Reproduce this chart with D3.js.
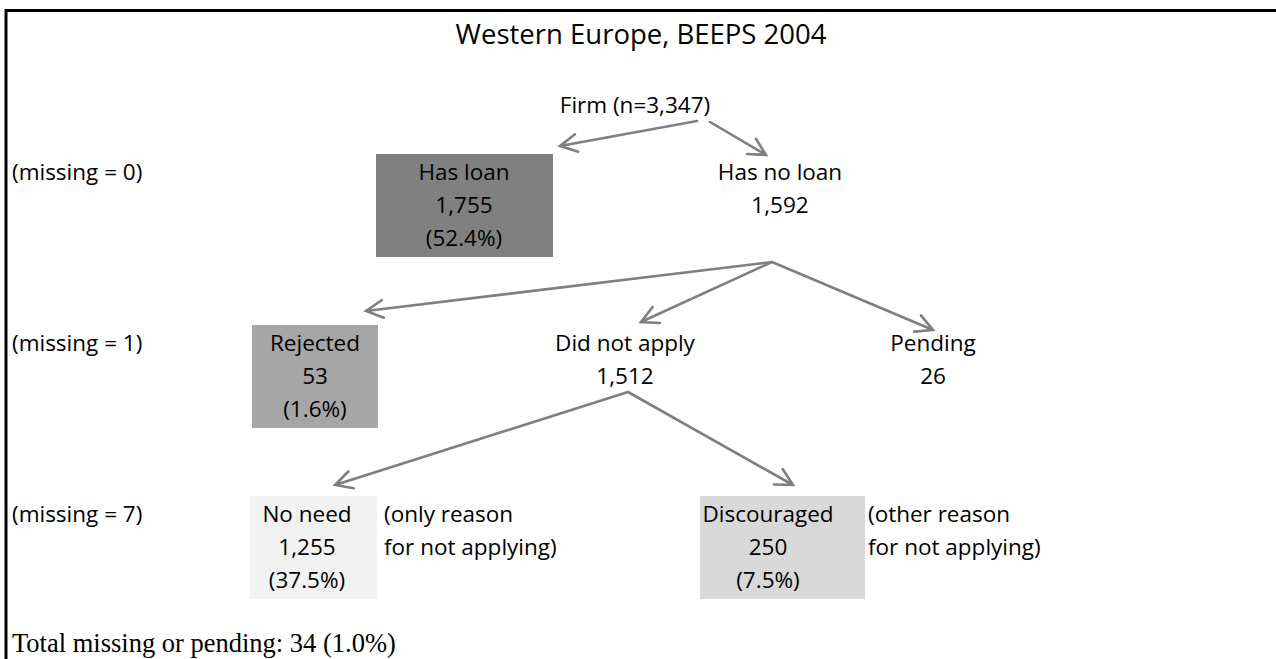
<!DOCTYPE html>
<html lang="en">
<head>
  <meta charset="UTF-8" />
  <title>Western Europe, BEEPS 2004</title>
  <script src="https://d3js.org/d3.v7.min.js"></script>
  <style>
    body {
      margin: 0;
      background: #fff;
      overflow: hidden;
    }
    .lbl {
      font-family: "Open Sans", sans-serif;
      font-size: 22.5px;
      fill: #000;
    }
    .title {
      font-family: "Open Sans", sans-serif;
      font-size: 27.5px;
      fill: #000;
    }
    .note {
      font-family: "Liberation Serif", "Times New Roman", serif;
      font-size: 26.5px;
      fill: #000;
    }
    .arrow {
      stroke: #7f7f7f;
      stroke-width: 2.6px;
      fill: none;
      stroke-linecap: round;
    }
  </style>
</head>
<body>
  <script>
    // Chart values
    const titleText = "Western Europe, BEEPS 2004";
    const levelLabels = ["(missing = 0)", "(missing = 1)", "(missing = 7)"];
    const nodeNames = ["Firm (n=3,347)", "Has loan", "Has no loan", "Rejected", "Did not apply", "Pending", "No need", "Discouraged"];
    const nodeCounts = [null, "1,755", "1,592", "53", "1,512", "26", "1,255", "250"];
    const nodePcts = [null, "(52.4%)", null, "(1.6%)", null, null, "(37.5%)", "(7.5%)"];
    const nodeParent = [null, 0, 0, 2, 2, 2, 4, 4];
    const nodeLevel = [-1, 0, 0, 1, 1, 1, 2, 2];
    const sideNotes = [
      { node: 6, lines: ["(only reason", "for not applying)"] },
      { node: 7, lines: ["(other reason", "for not applying)"] }
    ];
    const footnote = "Total missing or pending: 34 (1.0%)";

    // Layout (positions, sizes, colours)
    const width = 1276, height = 659;
    const lineGap = 33;
    // baseline of the first text line for each row (firm row, then levels)
    const rowY = d3.scaleOrdinal().domain([-1, 0, 1, 2]).range([113, 180, 351, 522]);
    const layout = {
      "Firm (n=3,347)": { cx: 635, out: [[62, 8], [75, 9]] },
      "Has loan":      { cx: 464, box: [376, 553], fill: "#808080", tip: [560, 146] },
      "Has no loan":   { cx: 780, tip: [766, 155], out: [[-8, 82]] },
      "Rejected":      { cx: 315, box: [252, 378], fill: "#a6a6a6", tip: [366, 311] },
      "Did not apply": { cx: 625, tip: [641, 322], out: [[3, 41]] },
      "Pending":       { cx: 933, tip: [933, 330] },
      "No need":       { cx: 307, box: [250, 377], fill: "#f2f2f2", tip: [335, 485] },
      "Discouraged":   { cx: 768, box: [700, 865], fill: "#d9d9d9", tip: [793, 485] }
    };
    const noteX = { 6: 384, 7: 868 };

    const svg = d3.select("body").append("svg")
      .attr("width", width)
      .attr("height", height);

    // Frame (left and top rules)
    svg.append("line").attr("x1", 6).attr("y1", 10.5).attr("x2", width).attr("y2", 10.5)
      .attr("stroke", "#000").attr("stroke-width", 3);
    svg.append("line").attr("x1", 6).attr("y1", 9).attr("x2", 6).attr("y2", height)
      .attr("stroke", "#000").attr("stroke-width", 3);

    svg.append("text").attr("class", "title")
      .attr("x", 641).attr("y", 44)
      .attr("text-anchor", "middle")
      .text(titleText);

    const nodes = nodeNames.map((name, i) => ({
      i, name,
      count: nodeCounts[i],
      pct: nodePcts[i],
      parent: nodeParent[i],
      level: nodeLevel[i],
      lines: [name, nodeCounts[i], nodePcts[i]].filter(s => s !== null),
      ...layout[name]
    }));

    // Boxes
    svg.selectAll("rect.box")
      .data(nodes.filter(d => d.box))
      .join("rect")
      .attr("class", "box")
      .attr("x", d => d.box[0])
      .attr("y", d => rowY(d.level) - 26)
      .attr("width", d => d.box[1] - d.box[0])
      .attr("height", lineGap * 2 + 37)
      .attr("fill", d => d.fill);

    // Node labels
    const g = svg.selectAll("g.node")
      .data(nodes)
      .join("g")
      .attr("class", "node");
    g.selectAll("text")
      .data(d => d.lines.map((s, k) => ({ s, k, d })))
      .join("text")
      .attr("class", "lbl")
      .attr("x", t => t.d.cx)
      .attr("y", t => rowY(t.d.level) + t.k * lineGap)
      .attr("text-anchor", "middle")
      .text(t => t.s);

    // Level labels
    svg.selectAll("text.level")
      .data(levelLabels)
      .join("text")
      .attr("class", "lbl level")
      .attr("x", 12)
      .attr("y", (d, i) => rowY(i))
      .text(d => d);

    // Side notes
    sideNotes.forEach(n => {
      n.lines.forEach((s, k) => {
        svg.append("text").attr("class", "lbl")
          .attr("x", noteX[n.node])
          .attr("y", rowY(nodes[n.node].level) + k * lineGap)
          .text(s);
      });
    });

    // Arrows from parent to child
    const links = nodes.filter(d => d.parent !== null);
    const childIndex = {};
    links.forEach(d => {
      const p = nodes[d.parent];
      const k = childIndex[d.parent] || 0;
      childIndex[d.parent] = k + 1;
      const o = p.out[Math.min(k, p.out.length - 1)];
      const x0 = p.cx + o[0], y0 = rowY(p.level) + o[1];
      const [x1, y1] = d.tip;
      const ang = Math.atan2(y1 - y0, x1 - x0);
      const head = 19, spread = Math.PI / 6.5;
      const path = d3.path();
      path.moveTo(x0, y0);
      path.lineTo(x1, y1);
      path.moveTo(x1 - head * Math.cos(ang - spread), y1 - head * Math.sin(ang - spread));
      path.lineTo(x1, y1);
      path.lineTo(x1 - head * Math.cos(ang + spread), y1 - head * Math.sin(ang + spread));
      svg.append("path").attr("class", "arrow").attr("d", path.toString());
    });

    svg.append("text").attr("class", "note")
      .attr("x", 12).attr("y", 652)
      .text(footnote);
  </script>
</body>
</html>
